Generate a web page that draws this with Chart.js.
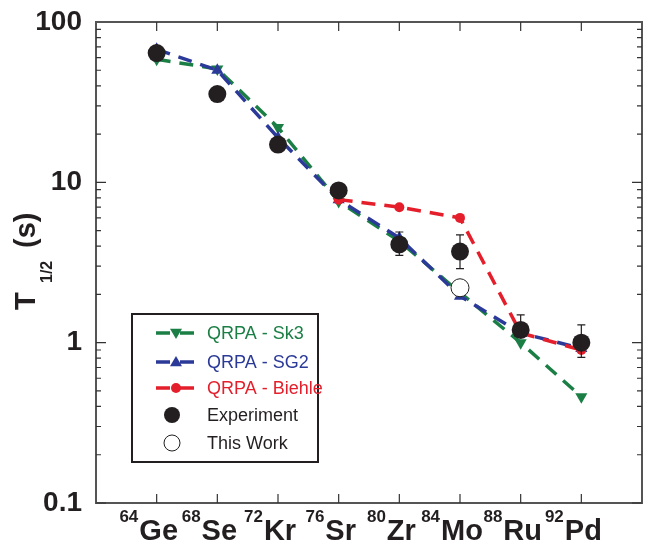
<!DOCTYPE html>
<html>
<head>
<meta charset="utf-8">
<script src="https://cdn.jsdelivr.net/npm/chart.js@4.4.0/dist/chart.umd.min.js"></script>
<style>
  html, body { margin: 0; padding: 0; background: #fff; }
  #wrap { width: 652px; height: 550px; }
</style>
</head>
<body>
<div id="wrap"><canvas id="grafica"></canvas></div>
<script>
// Datos
const nuclei = ['Ge', 'Se', 'Kr', 'Sr', 'Zr', 'Mo', 'Ru', 'Pd'];
const massNumbers = ['64', '68', '72', '76', '80', '84', '88', '92'];
const sk3 = [58.5, 51, 22, 7.6, 4.3, 2.05, 1.0, 0.46];
const sg2 = [67.5, 50, 19, 7.8, 4.5, 1.95, 1.15, 0.92];
const biehle = [null, null, null, 7.8, 7.0, 6.0, 1.15, 0.9];
const experiment = [64, 35.5, 17.2, 8.9, 4.1, 3.7, 1.2, 1.0];
const expLow = [null, null, null, null, 3.5, 2.9, 1.1, 0.81];
const expHigh = [null, null, null, null, 4.9, 4.7, 1.49, 1.29];
const thisWork = [null, null, null, null, null, 2.2, null, null];
const yTicks = [0.1, 1, 10, 100];
const yTickLabels = ['0.1', '1', '10', '100'];

const GREEN = '#1b7f45';
const BLUE = '#2b3a98';
const RED = '#e41f2b';
const BLACK = '#231f20';
const FONT = '"Liberation Sans", Arial, sans-serif';

const toPoints = arr => arr.map((v, i) => ({ x: i, y: v })).filter(p => p.y !== null);

const datasets = [
  { label: 'QRPA - Sk3', data: toPoints(sk3), borderColor: GREEN, backgroundColor: GREEN,
    borderWidth: 3.5, borderDash: [14, 9], pointStyle: 'triangle', pointRotation: 180,
    pointRadius: 7, pointBorderWidth: 0, order: 5 },
  { label: 'QRPA - SG2', data: toPoints(sg2), borderColor: BLUE, backgroundColor: BLUE,
    borderWidth: 3.5, borderDash: [14, 9], pointStyle: 'triangle',
    pointRadius: 7, pointBorderWidth: 0, order: 4 },
  { label: 'QRPA - Biehle', data: toPoints(biehle), borderColor: RED, backgroundColor: RED,
    borderWidth: 3.5, borderDash: [14, 9], pointStyle: 'circle',
    pointRadius: 5, pointBorderWidth: 0, order: 3 },
  { label: 'Experiment', data: toPoints(experiment), showLine: false, borderColor: BLACK,
    backgroundColor: BLACK, pointStyle: 'circle', pointRadius: 9, pointBorderWidth: 0, order: 2 },
  { label: 'This Work', data: toPoints(thisWork), showLine: false, borderColor: BLACK,
    backgroundColor: '#ffffff', pointStyle: 'circle', pointRadius: 9, pointBorderWidth: 1, order: 1 }
];

// Barras de error, marco, ticks hacia dentro, etiquetas y leyenda
const decor = {
  id: 'decor',
  afterDatasetsDraw(chart) {
    const { ctx, scales: { x, y } } = chart;
    ctx.save();
    ctx.strokeStyle = BLACK;
    ctx.lineWidth = 1.2;
    expLow.forEach((lo, i) => {
      if (lo === null) return;
      const px = x.getPixelForValue(i);
      const y1 = y.getPixelForValue(lo), y2 = y.getPixelForValue(expHigh[i]);
      ctx.beginPath();
      ctx.moveTo(px, y1); ctx.lineTo(px, y2);
      ctx.moveTo(px - 4, y1); ctx.lineTo(px + 4, y1);
      ctx.moveTo(px - 4, y2); ctx.lineTo(px + 4, y2);
      ctx.stroke();
    });
    ctx.restore();
  },
  afterDraw(chart) {
    const { ctx, chartArea: a, scales: { x, y } } = chart;
    ctx.save();
    // marco
    ctx.strokeStyle = '#555';
    ctx.lineWidth = 2;
    ctx.strokeRect(a.left, a.top, a.right - a.left, a.bottom - a.top);
    // ticks
    ctx.lineWidth = 1.2;
    ctx.strokeStyle = '#333';
    ctx.beginPath();
    for (let e = -1; e <= 1; e++) {
      for (let m = 1; m <= 9; m++) {
        const v = m * Math.pow(10, e);
        const py = y.getPixelForValue(v);
        const len = m === 1 ? 10 : 5;
        ctx.moveTo(a.left, py); ctx.lineTo(a.left + len, py);
        ctx.moveTo(a.right, py); ctx.lineTo(a.right - len, py);
      }
    }
    nuclei.forEach((n, i) => {
      const px = x.getPixelForValue(i);
      ctx.moveTo(px, a.bottom); ctx.lineTo(px, a.bottom - 9);
      ctx.moveTo(px, a.top); ctx.lineTo(px, a.top + 9);
    });
    ctx.stroke();

    // etiquetas del eje y
    ctx.fillStyle = BLACK;
    ctx.font = 'bold 28px ' + FONT;
    ctx.textAlign = 'right';
    ctx.textBaseline = 'middle';
    yTicks.forEach((v, i) => {
      ctx.fillText(yTickLabels[i], a.left - 14, y.getPixelForValue(v));
    });

    // etiquetas del eje x con superindice
    ctx.textBaseline = 'alphabetic';
    nuclei.forEach((n, i) => {
      const px = x.getPixelForValue(i);
      ctx.font = 'bold 29px ' + FONT;
      const w = ctx.measureText(n).width;
      ctx.textAlign = 'center';
      ctx.fillText(n, px + 2, 540);
      ctx.font = 'bold 17px ' + FONT;
      ctx.textAlign = 'right';
      ctx.fillText(massNumbers[i], px + 2 - w / 2 - 1, 522);
    });

    // titulo del eje y
    ctx.save();
    ctx.translate(35, 310);
    ctx.rotate(-Math.PI / 2);
    ctx.textAlign = 'left';
    ctx.font = 'bold 29px ' + FONT;
    ctx.fillText('T', 0, 0);
    ctx.font = 'bold 16px ' + FONT;
    ctx.fillText('1/2', 27, 17);
    ctx.font = 'bold 29px ' + FONT;
    ctx.fillText('(s)', 62, 0);
    ctx.restore();

    // leyenda
    const lx = 132, ly = 314, lw = 186, lh = 148;
    ctx.fillStyle = '#fff';
    ctx.fillRect(lx, ly, lw, lh);
    ctx.strokeStyle = BLACK;
    ctx.lineWidth = 2;
    ctx.strokeRect(lx, ly, lw, lh);
    const rows = [333, 362, 388, 415, 443];
    const colors = [GREEN, BLUE, RED, BLACK, BLACK];
    chart.data.datasets.forEach((ds, i) => {
      const cy = rows[i], cx = 176;
      ctx.save();
      if (ds.showLine !== false) {
        ctx.strokeStyle = ds.borderColor;
        ctx.lineWidth = 3.5;
        ctx.setLineDash([14, 10]);
        ctx.beginPath();
        ctx.moveTo(156, cy); ctx.lineTo(198, cy);
        ctx.stroke();
        ctx.setLineDash([]);
      }
      ctx.fillStyle = ds.backgroundColor;
      ctx.strokeStyle = ds.borderColor;
      ctx.beginPath();
      if (ds.pointStyle === 'triangle') {
        const r = 6;
        const s = ds.pointRotation === 180 ? -1 : 1;
        ctx.moveTo(cx, cy - s * r);
        ctx.lineTo(cx + r, cy + s * r * 0.7);
        ctx.lineTo(cx - r, cy + s * r * 0.7);
        ctx.closePath();
        ctx.fill();
      } else {
        const r = ds.pointRadius === 5 ? 5 : 8;
        ctx.arc(cx - (ds.showLine === false ? 4 : 0), cy, r, 0, Math.PI * 2);
        ctx.fill();
        if (ds.pointBorderWidth) { ctx.lineWidth = 1; ctx.stroke(); }
      }
      ctx.restore();
      ctx.fillStyle = colors[i];
      ctx.font = '18px ' + FONT;
      ctx.textAlign = 'left';
      ctx.textBaseline = 'middle';
      ctx.fillText(ds.label, 207, cy + 1);
    });
    ctx.restore();
  }
};

new Chart(document.getElementById('grafica'), {
  type: 'line',
  data: { datasets: datasets },
  options: {
    responsive: true,
    maintainAspectRatio: false,
    animation: false,
    layout: { padding: { left: 0, right: 10, top: 22, bottom: 0 } },
    plugins: { legend: { display: false }, tooltip: { enabled: false } },
    scales: {
      x: {
        type: 'linear', min: -1, max: 8,
        grid: { display: false, drawTicks: false },
        border: { display: false },
        ticks: { display: false },
        afterFit(s) { s.height = 47; }
      },
      y: {
        type: 'logarithmic', min: 0.1, max: 100,
        grid: { display: false, drawTicks: false },
        border: { display: false },
        ticks: { display: false },
        afterFit(s) { s.width = 96; }
      }
    }
  },
  plugins: [decor]
});
</script>
</body>
</html>
